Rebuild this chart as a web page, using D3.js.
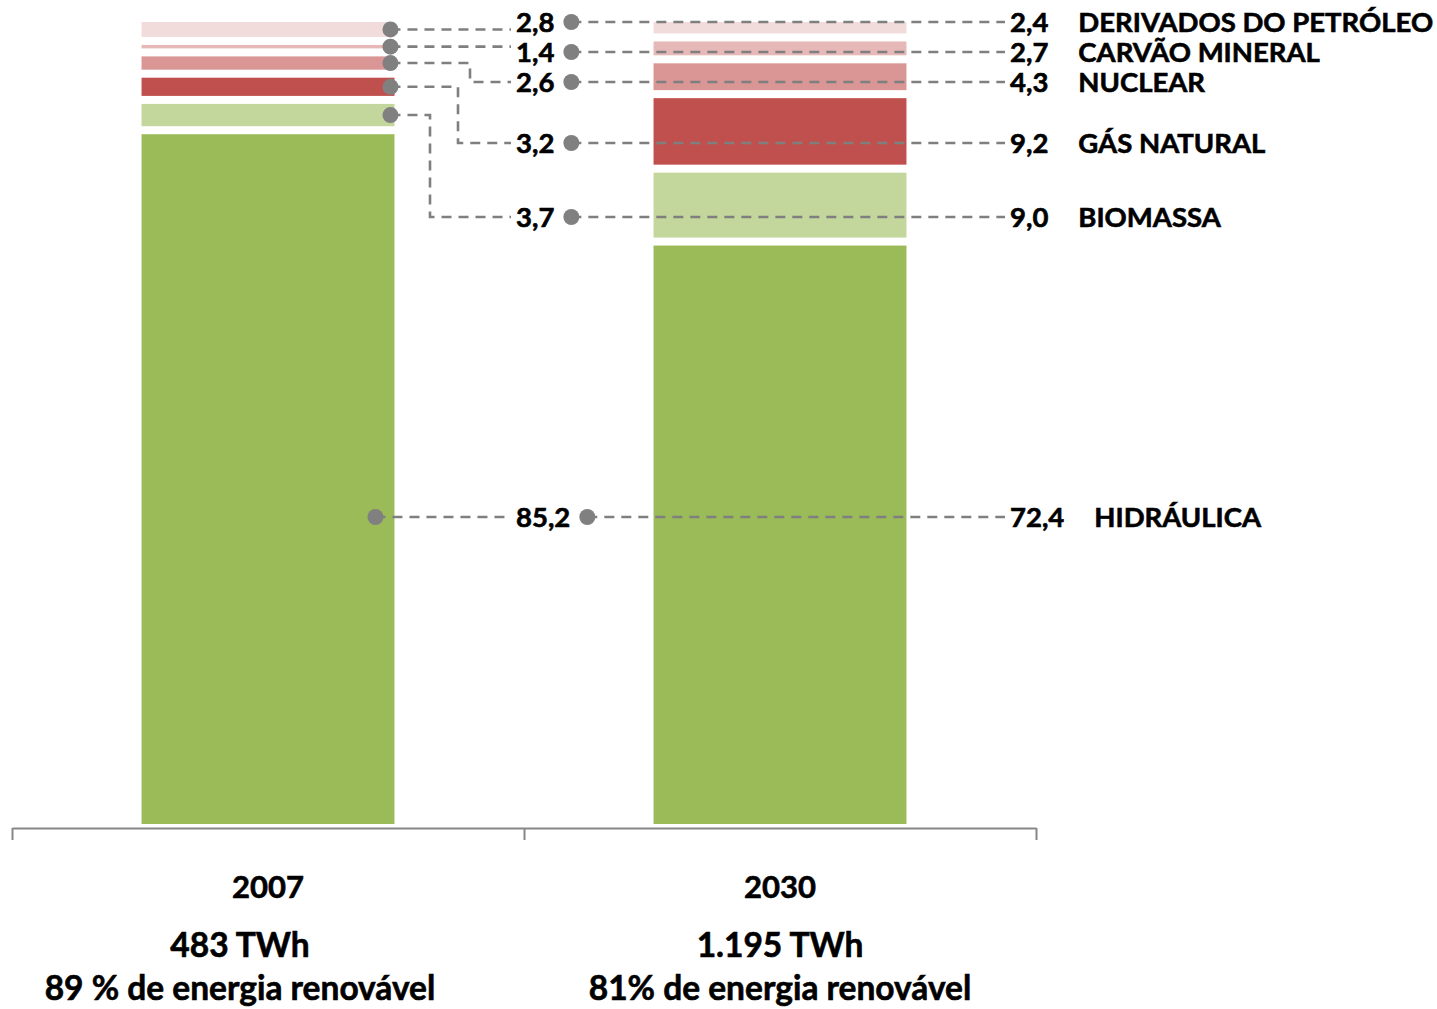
<!DOCTYPE html>
<html lang="pt-BR">
<head>
<meta charset="utf-8">
<title>Matriz de geração elétrica 2007 e 2030</title>
<script src="https://cdn.jsdelivr.net/npm/d3@7/dist/d3.min.js"></script>
<style>
  html, body { margin: 0; padding: 0; background: #ffffff; }
  svg { display: block; }
  text { font-family: Lato, "Open Sans", "DejaVu Sans", sans-serif; font-weight: 700; fill: #000;
         stroke: #000; stroke-width: 0.6px; }
</style>
</head>
<body>
<svg id="chart" width="1437" height="1009"></svg>
<script>
// ---- data ----------------------------------------------------------------
const years = ["2007", "2030"];
const sources = ["HIDRÁULICA", "BIOMASSA", "GÁS NATURAL", "NUCLEAR", "CARVÃO MINERAL", "DERIVADOS DO PETRÓLEO"];
const share2007 = [85.2, 3.7, 3.2, 2.6, 1.4, 2.8];   // % da geração
const share2030 = [72.4, 9.0, 9.2, 4.3, 2.7, 2.4];
const totals = ["483 TWh", "1.195 TWh"];
const renewable = ["89 % de energia renovável", "81% de energia renovável"];

// ---- styling & layout ----------------------------------------------------
const colors = ["#9bbb59", "#c3d69b", "#c0504d", "#d99694", "#e6b9b8", "#f2dcdb"];
const labelRowY = [517, 217, 143, 82, 52, 22];        // vertical slot of each label row
const elbowX2007 = [null, 430, 458, 470, null, null]; // where 2007 leaders turn down
const anchorInset2007 = [19, 4, 4, 4, 4, 4];
const subtitleShift = [-28, 0];

const svg = d3.select("#chart");
const ptBR = d3.formatLocale({ decimal: ",", thousands: ".", grouping: [3], currency: ["R$", ""] });
const fmt = ptBR.format(".1f");

const x = d3.scaleBand().domain(years).range([12, 1036]).paddingInner(0.506).paddingOuter(0.253);
const y = d3.scaleLinear().domain([0, 100]).range([828, 18]);
const GAP = 8; // white separation between stacked segments

// rows normalised to 100 %
const shares = [share2007, share2030];
const rows = years.map((yr, i) => {
  const sum = d3.sum(shares[i]);
  const r = { year: yr };
  sources.forEach((s, j) => r[s] = shares[i][j] / sum * 100);
  return r;
});
const series = d3.stack().keys(sources)(rows);

// ---- bars ----------------------------------------------------------------
const gBars = svg.append("g");
series.forEach((ser, j) => {
  gBars.selectAll(null).data(ser).join("rect")
    .attr("x", d => x(d.data.year))
    .attr("width", x.bandwidth())
    .attr("y", d => y(d[1]) + GAP / 2)
    .attr("height", d => Math.max(0, y(d[0]) - y(d[1]) - GAP))
    .attr("fill", colors[j]);
});

// ---- axis ----------------------------------------------------------------
const xEdge = d3.scaleLinear().domain([0, years.length]).range([12, 1036]);
const axis = svg.append("g").attr("transform", "translate(0,828)")
  .call(d3.axisBottom(xEdge).tickValues(d3.range(years.length + 1)).tickSize(12).tickSizeOuter(0).tickFormat(""));
axis.selectAll("path, line").attr("stroke", "#878787").attr("stroke-width", 2);

// category labels
const cat = svg.append("g").attr("text-anchor", "middle");
years.forEach((yr, i) => {
  const cx = x(yr) + x.bandwidth() / 2;
  cat.append("text").attr("x", cx).attr("y", 898).attr("font-size", 31).text(yr);
  cat.append("text").attr("x", cx + subtitleShift[i]).attr("y", 957).attr("font-size", 33.5).text(totals[i]);
  cat.append("text").attr("x", cx + subtitleShift[i]).attr("y", 1000).attr("font-size", 33.5).text(renewable[i]);
});

// ---- leaders & value labels ---------------------------------------------
const gLines = svg.append("g").attr("fill", "none").attr("stroke", "#7f7f7f")
  .attr("stroke-width", 2.6).attr("stroke-dasharray", "10,7");
const gDots = svg.append("g").attr("fill", "#808080");
const gText = svg.append("g").attr("font-size", 27.5);

const leftTextX = 516;
const rightValueX = 1010;
const lineEndRight = 1005;
const bar07 = x(years[0]) + x.bandwidth();

sources.forEach((s, j) => {
  const rowY = labelRowY[j];
  const seg = series[j][0];
  const top = y(seg[1]) + GAP / 2, bot = y(seg[0]) - GAP / 2;
  const mid = (top + bot) / 2;

  // 2007 value label
  const tL = gText.append("text").attr("x", leftTextX).attr("y", rowY + 10).text(fmt(share2007[j]));
  const lw = tL.node().getComputedTextLength();

  // 2007 leader
  let dotY, path;
  const dotX = bar07 - anchorInset2007[j];
  if (rowY >= top && rowY <= bot) {
    dotY = rowY;
    path = [[dotX, dotY], [leftTextX - 5, dotY]];
  } else if (Math.abs(mid - rowY) < 8) {
    dotY = mid;
    path = [[dotX, dotY], [leftTextX - 5, dotY]];
  } else {
    dotY = mid;
    const ex = elbowX2007[j];
    path = [[dotX, dotY], [ex, dotY], [ex, rowY], [leftTextX - 5, rowY]];
  }
  gLines.append("path").attr("d", d3.line()(path));
  gDots.append("circle").attr("cx", dotX).attr("cy", dotY).attr("r", 8);

  // 2030 leader (drawn across the 2030 bar)
  const dot30 = leftTextX + lw + 17;
  gLines.append("path").attr("d", d3.line()([[dot30, rowY], [lineEndRight, rowY]]));
  gDots.append("circle").attr("cx", dot30).attr("cy", rowY).attr("r", 8);

  // 2030 value + source name
  const tR = gText.append("text").attr("x", rightValueX).attr("y", rowY + 10).text(fmt(share2030[j]));
  const rw = tR.node().getComputedTextLength();
  gText.append("text").attr("x", rightValueX + rw + 30).attr("y", rowY + 10).text(s);
});
</script>
</body>
</html>
